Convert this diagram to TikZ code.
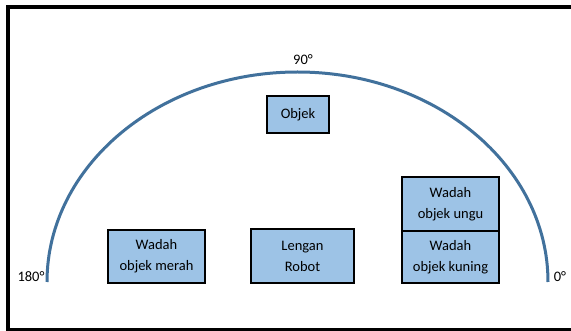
\documentclass[tikz,border=0pt]{standalone}
\usepackage{fontspec}
\setmainfont{Carlito}
\definecolor{arcblue}{RGB}{65,113,156}
\definecolor{boxfill}{RGB}{157,195,230}
\tikzset{
  box/.style={draw=black, line width=1.3pt, fill=boxfill, inner sep=0pt, align=center,
    font=\fontsize{14.5}{21}\selectfont},
  lbl/.style={inner sep=0pt, font=\fontsize{14.5}{18}\selectfont}
}
\begin{document}
\begin{tikzpicture}[x=1pt,y=-1pt]
\useasboundingbox (0,0) rectangle (571,331);
\clip (0,0) rectangle (571,331);
\fill[white] (0,0) rectangle (571,331);
% frame
\draw[line width=3.5pt, black] (8,7) rectangle (620,330);
% arc
\draw[arcblue, line width=3pt] (47,282) arc[start angle=180, end angle=360, x radius=250.5, y radius=210];
% boxes
\node[box, minimum width=62pt, minimum height=37pt] (objek) at (298,114.5) {Objek};
\node[box, minimum width=97pt, minimum height=53pt] (merah) at (156.5,256.5) {Wadah\\objek merah};
\node[box, minimum width=103pt, minimum height=54pt] (lengan) at (302.5,256) {Lengan\\Robot};
\node[box, minimum width=97pt, minimum height=54pt] (ungu) at (450.5,204) {Wadah\\objek ungu};
\node[box, minimum width=97pt, minimum height=52pt] (kuning) at (450.5,257) {Wadah\\objek kuning};
% angle labels
\node[lbl] (l90) at (303,60) {90°};
\node[lbl] (l180) at (31,277) {180°};
\node[lbl] (l0) at (560,277) {0°};
\end{tikzpicture}
\end{document}
